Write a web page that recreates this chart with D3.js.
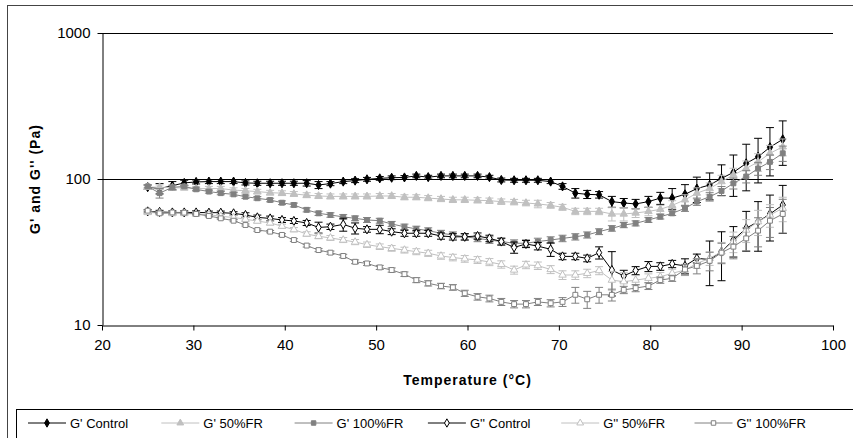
<!DOCTYPE html>
<html>
<head>
<meta charset="utf-8">
<script src="https://cdn.jsdelivr.net/npm/d3@7"></script>
<style>
  body { margin: 0; background: #fff; }
  svg text { font-family: "Liberation Sans", Arial, sans-serif; }
</style>
</head>
<body>
<div id="chart"></div>
<script>
// temperature (°C) of every measured point
let temps = [25.0, 26.3, 27.7, 29.0, 30.3, 31.7, 33.0, 34.4, 35.7, 37.0, 38.4, 39.7, 41.0, 42.4, 43.7,
    45.0, 46.4, 47.7, 49.0, 50.4, 51.7, 53.1, 54.4, 55.7, 57.1, 58.4, 59.7, 61.1, 62.4, 63.7, 65.1,
    66.4, 67.7, 69.1, 70.4, 71.8, 73.1, 74.4, 75.8, 77.1, 78.4, 79.8, 81.1, 82.4, 83.8, 85.1, 86.5,
    87.8, 89.1, 90.5, 91.8, 93.1, 94.5];

let gpControl = [88, 86, 90, 94, 95.5, 96, 96, 96, 94, 93.5, 93.5, 93.5, 93.5, 93.5, 91, 93, 96, 97.5,
    99.5, 101, 102, 102.5, 105, 103, 105, 105, 105, 105, 103, 98.5, 98, 98, 98, 96, 89, 80, 78.5, 78,
    70, 68.5, 67.5, 70, 74, 74, 78.5, 86, 91, 101, 111, 128, 142, 165, 187];
let gpControlErr = [3, 7, 6, 4, 3, 3, 3, 3, 3, 3, 3, 3, 3, 4, 5, 3, 3, 3, 3, 3, 3, 3, 3, 3, 3, 3, 3, 3,
    3, 3, 3, 3, 3, 3, 4, 6, 5, 4, 6, 5, 5, 6, 7, 12, 13, 17, 19, 24, 35, 45, 48, 60, 63];

let gp50 = [88, 88, 87, 87, 86, 86, 86, 84, 83, 82, 80.6, 80, 79, 77.5, 76.5, 76, 76, 76, 76, 76.5, 76.5,
    75, 75, 74, 73, 72, 72, 71.5, 71, 70, 69.5, 68.5, 67.5, 66, 64, 60, 60, 60, 57.6, 57.6, 58.5, 60, 62,
    66, 72, 80, 86, 96, 106.5, 118, 131, 150, 166];
let gp50Err = [3, 3, 3, 3, 3, 3, 3, 3, 3, 3, 3, 3, 3, 3, 3, 3, 3, 3, 3, 3, 3, 3, 3, 3, 3, 3, 3, 3, 3, 3,
    3, 3, 4, 3, 3, 3, 3, 3, 6, 6, 4, 4, 4, 5, 6, 7, 8, 10, 12, 15, 18, 20, 22];

let gp100 = [89, 80, 87.7, 89, 85, 82, 80, 78.5, 75.6, 73.8, 71.8, 68.8, 66.4, 61.5, 58.2, 56.7, 55, 53.8,
    52.4, 51.8, 49.2, 47.1, 45.5, 44.3, 42.5, 41.4, 40.2, 39.2, 38.2, 37.3, 36.3, 36.3, 37.3, 38.2, 39.2,
    40.2, 41.4, 43.6, 45.9, 48.4, 49.7, 52.4, 55.2, 58.2, 63, 70, 75.6, 82.8, 93.4, 104, 118, 131, 150];
let gp100Err = [2, 6, 3, 2, 2, 2, 2, 2, 2, 2, 2, 2, 2, 2, 2, 2, 2, 2, 2, 2, 2, 2, 2, 2, 2, 2, 2, 2, 2, 2,
    2, 2, 2, 2, 2, 2, 2, 2, 2, 2, 2, 2, 2, 2, 3, 4, 5, 6, 8, 10, 12, 15, 18];

let gppControl = [60, 59.5, 59, 59, 59, 58.8, 58.8, 58.2, 56.7, 54.6, 53.7, 52.4, 51.6, 50, 46.6, 47.1,
    48.9, 46, 45.2, 45.2, 43.6, 42.5, 42.5, 42.5, 40.7, 40.2, 40.2, 40.7, 39.2, 37.3, 34, 35.9, 34.7, 33,
    29.5, 29.5, 28.6, 31.3, 23.8, 21.7, 23.6, 25.2, 25.2, 26.2, 25.4, 28.6, 28.1, 31.8, 38.2, 46, 51,
    57.6, 66.4];
let gppControlErr = [1.5, 1.5, 1.5, 1.5, 1.5, 1.5, 1.5, 1.5, 2, 2, 2, 2, 2, 2, 4, 2, 5, 4, 2, 3, 2, 2,
    2, 2, 2, 2, 2, 2, 2, 2, 3, 2, 2, 3.5, 1.5, 1.5, 1.5, 3, 8, 2, 1.5, 2, 1.5, 1.5, 3, 2, 9.5, 11.7, 9,
    14, 19, 20, 24];

let gpp50 = [59, 58.5, 58, 58, 57.5, 57, 55.5, 54.5, 53, 51.5, 50, 47.5, 45, 42, 40.5, 39.5, 38.2, 37,
    35.5, 34.4, 33.5, 32.6, 31.8, 31, 29.7, 29, 28.4, 27.9, 27, 26, 23.8, 25.8, 25.5, 24, 22, 22, 22.6,
    23.6, 20.3, 19.8, 20.3, 20.9, 21.4, 22.6, 23.8, 26.4, 28.6, 31.8, 37.3, 44.7, 51, 56.7, 63];
let gpp50Err = [1.5, 1.5, 1.5, 1.5, 1.5, 1.5, 1.5, 1.5, 1.5, 1.5, 1.5, 1.5, 1.5, 1.5, 1.5, 1.5, 1.5,
    1.5, 1.5, 1.5, 1.5, 1.5, 1.5, 1.5, 1.5, 1.5, 1.5, 1.5, 1.5, 1.5, 1.5, 1.5, 1.5, 1.5, 1.5, 1.5, 1.5,
    1.5, 3, 3, 1.5, 1.5, 1.5, 1.5, 2, 2, 3, 5, 6, 8, 10, 10, 12];

let gpp100 = [60.7, 58.2, 59, 58.8, 57.6, 55.8, 53.8, 51.8, 48.4, 44.7, 43.6, 41.4, 38.2, 35, 32.6, 31.3,
    29.7, 27.1, 26.4, 24.8, 23.8, 22.3, 20.3, 19.3, 18.5, 18.1, 16.5, 15.6, 15.2, 14.4, 13.9, 13.9, 14.4,
    14.1, 14.4, 16.1, 15, 16.1, 16.1, 17.4, 17.9, 18.5, 20.3, 20.9, 24, 25.4, 27.5, 31.3, 34.4, 39.2,
    44.3, 51.8, 57.6];
let gpp100Err = [0.8, 0.8, 0.8, 0.8, 0.8, 0.8, 0.8, 0.8, 0.8, 0.8, 0.8, 0.8, 0.8, 0.8, 0.8, 0.8, 0.8,
    0.8, 0.8, 0.8, 0.8, 0.8, 0.8, 0.8, 0.8, 0.8, 0.8, 0.8, 0.8, 0.8, 0.8, 0.8, 0.8, 0.8, 1, 2, 2, 2, 1.5,
    1, 1, 1, 1, 1, 2, 3, 4, 5, 6, 7, 10, 12, 15];

let xTicks = [20, 30, 40, 50, 60, 70, 80, 90, 100];
let yTicks = [10, 100, 1000];

let seriesNames = ["G' Control", "G' 50%FR", "G' 100%FR", "G'' Control", "G'' 50%FR", "G'' 100%FR"];

let series = [
    {name: seriesNames[0], values: gpControl, err: gpControlErr, color: '#000', symbol: d3.symbolDiamond, open: false},
    {name: seriesNames[1], values: gp50, err: gp50Err, color: '#c0c0c0', symbol: d3.symbolTriangle, open: false},
    {name: seriesNames[2], values: gp100, err: gp100Err, color: '#808080', symbol: d3.symbolSquare, open: false},
    {name: seriesNames[3], values: gppControl, err: gppControlErr, color: '#000', symbol: d3.symbolDiamond, open: true},
    {name: seriesNames[4], values: gpp50, err: gpp50Err, color: '#c0c0c0', symbol: d3.symbolTriangle, open: true},
    {name: seriesNames[5], values: gpp100, err: gpp100Err, color: '#808080', symbol: d3.symbolSquare, open: true}
];

let width = 853,
    height = 438,
    plot = {left: 102, right: 833, top: 33, bottom: 325};

let svg = d3.select('#chart').append('svg')
    .attr('width', width)
    .attr('height', height);

// chart area border (runs past the picture on the right and bottom)
svg.append('rect')
    .attr('x', 7.5).attr('y', 5.5)
    .attr('width', 900).attr('height', 500)
    .attr('fill', '#fff')
    .attr('stroke', '#444');

let x = d3.scaleLinear().domain([20, 100]).range([plot.left, plot.right]);
let y = d3.scaleLog().domain([10, 1000]).range([plot.bottom, plot.top]);

// major gridlines
svg.append('g')
    .selectAll('line')
    .data(yTicks.slice(1))
    .join('line')
    .attr('x1', plot.left).attr('x2', plot.right)
    .attr('y1', d => Math.round(y(d)) + 0.5)
    .attr('y2', d => Math.round(y(d)) + 0.5)
    .attr('stroke', '#000');

let xAxis = svg.append('g')
    .attr('transform', `translate(0, ${plot.bottom + 0.5})`)
    .call(d3.axisBottom(x).tickValues(xTicks).tickSize(5).tickSizeOuter(0).tickPadding(9));

let yAxis = svg.append('g')
    .attr('transform', `translate(${plot.left + 0.5}, 0)`)
    .call(d3.axisLeft(y).tickValues(yTicks).tickFormat(d3.format('d')).tickSize(5).tickSizeOuter(0).tickPadding(7));

[xAxis, yAxis].forEach(g => {
    g.selectAll('text').style('font-size', '15px').attr('fill', '#000');
    g.selectAll('line, path').attr('stroke', '#000');
});

svg.append('text')
    .attr('x', (plot.left + plot.right) / 2)
    .attr('y', 385)
    .attr('text-anchor', 'middle')
    .style('font-size', '14px')
    .style('font-weight', 'bold')
    .style('letter-spacing', '1px')
    .text('Temperature (°C)');

svg.append('text')
    .attr('transform', `translate(40, ${(plot.top + plot.bottom) / 2}) rotate(-90)`)
    .attr('text-anchor', 'middle')
    .style('font-size', '14px')
    .style('font-weight', 'bold')
    .style('letter-spacing', '1px')
    .text("G' and G'' (Pa)");

let line = d3.line()
    .x((d, i) => x(temps[i]))
    .y(d => y(d));

let series_g = svg.append('g');

series.forEach(s => {
    let g = series_g.append('g');

    // error bars
    g.selectAll('.err')
        .data(s.values.map((v, i) => ({t: temps[i], v: v, e: s.err[i]})))
        .join('path')
        .attr('class', 'err')
        .attr('fill', 'none')
        .attr('stroke', s.color)
        .attr('d', d => {
            let cx = x(d.t),
                y0 = y(Math.max(d.v - d.e, 10)),
                y1 = y(d.v + d.e);
            return `M${cx},${y0}V${y1}M${cx - 4},${y0}H${cx + 4}M${cx - 4},${y1}H${cx + 4}`;
        });

    g.append('path')
        .datum(s.values)
        .attr('fill', 'none')
        .attr('stroke', s.color)
        .attr('stroke-width', 1)
        .attr('d', line);

    g.selectAll('.mark')
        .data(s.values)
        .join('path')
        .attr('class', 'mark')
        .attr('transform', (d, i) => `translate(${x(temps[i])}, ${y(d)})`)
        .attr('d', d3.symbol().type(s.symbol).size(24))
        .attr('fill', s.open ? '#fff' : s.color)
        .attr('stroke', s.color);
});

// legend
let legend_g = svg.append('g');

legend_g.append('rect')
    .attr('x', 16.5).attr('y', 409.5)
    .attr('width', 900).attr('height', 60)
    .attr('fill', '#fff')
    .attr('stroke', '#000');

let item = legend_g.selectAll('.item')
    .data(series)
    .join('g')
    .attr('class', 'item')
    .attr('transform', (d, i) => `translate(${28 + i * 133.3}, 423)`);

item.append('line')
    .attr('x1', 0).attr('x2', 38)
    .attr('stroke', d => d.color);

item.append('path')
    .attr('transform', 'translate(19, 0)')
    .attr('d', d => d3.symbol().type(d.symbol).size(20)())
    .attr('fill', d => d.open ? '#fff' : d.color)
    .attr('stroke', d => d.color);

item.append('text')
    .attr('x', 42)
    .attr('dy', '0.35em')
    .style('font-size', '13px')
    .text(d => d.name);
</script>
</body>
</html>
